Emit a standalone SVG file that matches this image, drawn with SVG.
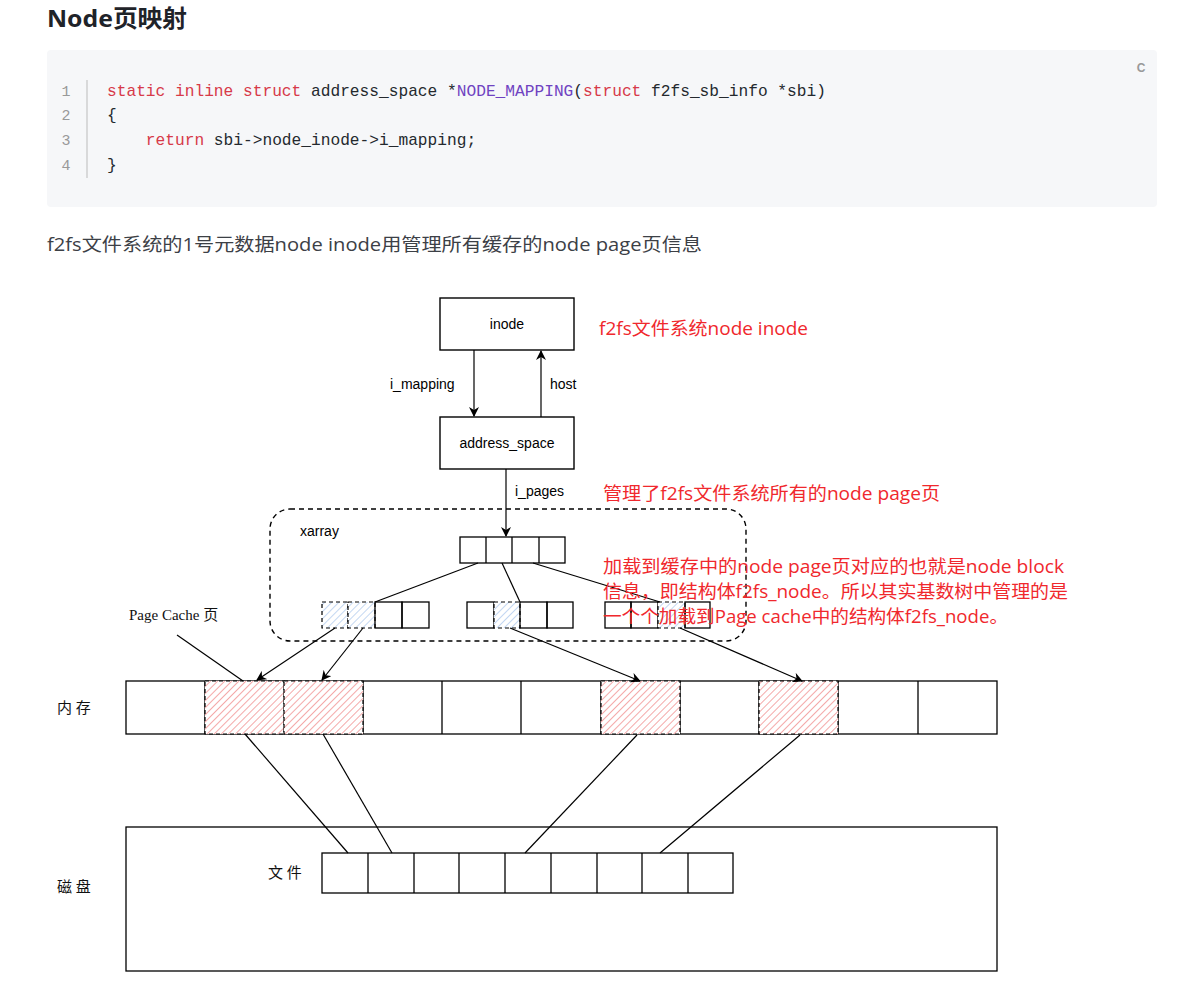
<svg xmlns="http://www.w3.org/2000/svg" width="1177" height="1005" viewBox="0 0 1177 1005">
<style>
.title{font-family:"Noto Sans","Noto Sans CJK SC",sans-serif;font-weight:bold;font-size:24px;fill:#1f2329}
.code{font-family:"Liberation Mono","DejaVu Sans Mono",monospace;font-size:16.2px;fill:#24292e}
.kw{fill:#d73a49}
.fn{fill:#6f42c1}
.ln{font-family:"Liberation Mono",monospace;font-size:15px;fill:#999;text-anchor:middle}
.para{font-family:"Open Sans","Noto Sans CJK SC",sans-serif;font-size:18px;fill:#3c4046}
.lbl{font-family:"Liberation Sans",Arial,sans-serif;font-size:14px;fill:#000}
.ctr{text-anchor:middle}
.red{font-family:"Open Sans","Noto Sans CJK SC",sans-serif;font-size:18px;fill:#f0282d}
.serif{font-family:"Liberation Serif","Noto Sans CJK SC",serif;font-size:15px;fill:#111}
.box{fill:#fff;stroke:#000;stroke-width:1.4}
.cell{fill:none;stroke:#000;stroke-width:1.3}
.line{fill:none;stroke:#000;stroke-width:1.2}
.dash{fill:none;stroke:#000;stroke-width:1.4;stroke-dasharray:5 4}
.hred{fill:url(#hatchRed);stroke:#000;stroke-width:1.2;stroke-dasharray:4 3}
.hblue{fill:url(#hatchBlue);stroke:#000;stroke-width:1.2;stroke-dasharray:4 3}
</style>
<defs>
<marker id="arr" viewBox="0 0 10 10" refX="9" refY="5" markerWidth="10" markerHeight="10" markerUnits="userSpaceOnUse" orient="auto">
<path d="M0,0 L10,5 L0,10 L3,5 Z" fill="#000"/>
</marker>
<pattern id="hatchRed" patternUnits="userSpaceOnUse" width="5" height="5" patternTransform="rotate(45)">
<rect width="5" height="5" fill="#fff"/>
<line x1="0" y1="0" x2="0" y2="5" stroke="#f4a9a9" stroke-width="2"/>
</pattern>
<pattern id="hatchBlue" patternUnits="userSpaceOnUse" width="5" height="5" patternTransform="rotate(45)">
<rect width="5" height="5" fill="#fff"/>
<line x1="0" y1="0" x2="0" y2="5" stroke="#c3d7f2" stroke-width="2"/>
</pattern>
</defs>
<rect width="1177" height="1005" fill="#fff"/>

<g id="header">
<text class="title" x="47" y="27" textLength="140" lengthAdjust="spacingAndGlyphs">Node页映射</text>
<rect x="47" y="50" width="1110" height="157" rx="4" fill="#f6f7f9"/>
<text x="1141" y="72" font-family="Liberation Sans,sans-serif" font-size="12" font-weight="bold" fill="#999" text-anchor="middle">C</text>
<line x1="87" y1="80" x2="87" y2="178" stroke="#bbb" stroke-width="1"/>
<text class="ln" x="66" y="96">1</text>
<text class="ln" x="66" y="120">2</text>
<text class="ln" x="66" y="145">3</text>
<text class="ln" x="66" y="170">4</text>
<text class="code" x="107" y="96" xml:space="preserve"><tspan class="kw">static inline struct</tspan> address_space *<tspan class="fn">NODE_MAPPING</tspan>(<tspan class="kw">struct</tspan> f2fs_sb_info *sbi)</text>
<text class="code" x="107" y="120">{</text>
<text class="code" x="107" y="145" xml:space="preserve">    <tspan class="kw">return</tspan> sbi-&gt;node_inode-&gt;i_mapping;</text>
<text class="code" x="107" y="170">}</text>
<text class="para" x="47" y="251" textLength="655" lengthAdjust="spacingAndGlyphs">f2fs文件系统的1号元数据node inode用管理所有缓存的node page页信息</text>
</g>

<g id="inode">
<rect class="box" x="440" y="298" width="134" height="52"/>
<text class="lbl ctr" x="507" y="329">inode</text>
</g>
<g id="address_space">
<rect class="box" x="440" y="417" width="134" height="52"/>
<text class="lbl ctr" x="507" y="448">address_space</text>
</g>

<g id="xarray">
<rect class="dash" x="270" y="509" width="476" height="132" rx="20"/>
<text class="lbl" x="300" y="536">xarray</text>
</g>

<g id="xa_top">
<rect class="cell" x="460" y="537" width="105" height="26"/>
<line class="cell" x1="486" y1="537" x2="486" y2="563"/>
<line class="cell" x1="512" y1="537" x2="512" y2="563"/>
<line class="cell" x1="539" y1="537" x2="539" y2="563"/>
</g>
<g id="xa_left">
<rect class="hblue" x="322" y="602" width="26" height="26"/>
<rect class="hblue" x="348" y="602" width="27" height="26"/>
<rect class="cell" x="375" y="602" width="27" height="26"/>
<rect class="cell" x="402" y="602" width="27" height="26"/>
</g>
<g id="xa_mid">
<rect class="cell" x="467" y="602" width="27" height="26"/>
<rect class="hblue" x="494" y="602" width="26" height="26"/>
<rect class="cell" x="520" y="602" width="27" height="26"/>
<rect class="cell" x="547" y="602" width="26" height="26"/>
</g>
<g id="xa_right">
<rect class="cell" x="605" y="602" width="26" height="26"/>
<rect class="cell" x="631" y="602" width="27" height="26"/>
<rect class="hblue" x="658" y="602" width="27" height="26"/>
<rect class="cell" x="685" y="602" width="25" height="26"/>
</g>

<g id="memory">
<rect class="cell" x="126" y="681" width="871" height="53"/>
<line class="cell" x1="205" y1="681" x2="205" y2="734"/>
<line class="cell" x1="284" y1="681" x2="284" y2="734"/>
<line class="cell" x1="363" y1="681" x2="363" y2="734"/>
<line class="cell" x1="442" y1="681" x2="442" y2="734"/>
<line class="cell" x1="521" y1="681" x2="521" y2="734"/>
<line class="cell" x1="601" y1="681" x2="601" y2="734"/>
<line class="cell" x1="680" y1="681" x2="680" y2="734"/>
<line class="cell" x1="759" y1="681" x2="759" y2="734"/>
<line class="cell" x1="838" y1="681" x2="838" y2="734"/>
<line class="cell" x1="918" y1="681" x2="918" y2="734"/>
<rect class="hred" x="205" y="681" width="79" height="53"/>
<rect class="hred" x="284" y="681" width="79" height="53"/>
<rect class="hred" x="601" y="681" width="79" height="53"/>
<rect class="hred" x="759" y="681" width="79" height="53"/>
</g>

<g id="disk">
<rect class="cell" x="126" y="827" width="871" height="144"/>
</g>
<g id="file">
<rect class="cell" x="322" y="853" width="411" height="40"/>
<line class="cell" x1="368" y1="853" x2="368" y2="893"/>
<line class="cell" x1="414" y1="853" x2="414" y2="893"/>
<line class="cell" x1="459" y1="853" x2="459" y2="893"/>
<line class="cell" x1="505" y1="853" x2="505" y2="893"/>
<line class="cell" x1="551" y1="853" x2="551" y2="893"/>
<line class="cell" x1="597" y1="853" x2="597" y2="893"/>
<line class="cell" x1="642" y1="853" x2="642" y2="893"/>
<line class="cell" x1="688" y1="853" x2="688" y2="893"/>
</g>

<g id="connectors">
<line class="line" x1="474" y1="350" x2="474" y2="416" marker-end="url(#arr)"/>
<line class="line" x1="541" y1="417" x2="541" y2="351" marker-end="url(#arr)"/>
<line class="line" x1="506" y1="469" x2="506" y2="536" marker-end="url(#arr)"/>
<line class="line" x1="478" y1="563" x2="375" y2="602"/>
<line class="line" x1="502" y1="563" x2="520" y2="602"/>
<line class="line" x1="533" y1="563" x2="660" y2="602"/>
<line class="line" x1="335" y1="628" x2="257" y2="680" marker-end="url(#arr)"/>
<line class="line" x1="363" y1="628" x2="322" y2="680" marker-end="url(#arr)"/>
<line class="line" x1="510" y1="628" x2="640" y2="681" marker-end="url(#arr)"/>
<line class="line" x1="680" y1="628" x2="802" y2="681" marker-end="url(#arr)"/>
<line class="line" x1="177" y1="635" x2="243" y2="681"/>
<line class="line" x1="245" y1="734" x2="348" y2="853"/>
<line class="line" x1="323" y1="734" x2="392" y2="853"/>
<line class="line" x1="637" y1="735" x2="525" y2="853"/>
<line class="line" x1="800" y1="735" x2="660" y2="853"/>
</g>

<g id="labels">
<text class="lbl" x="390" y="389">i_mapping</text>
<text class="lbl" x="550" y="389">host</text>
<text class="lbl" x="515" y="496">i_pages</text>
<text class="red" x="599" y="335" textLength="209" lengthAdjust="spacingAndGlyphs">f2fs文件系统node inode</text>
<text class="red" x="603" y="500" textLength="337" lengthAdjust="spacingAndGlyphs">管理了f2fs文件系统所有的node page页</text>
<text class="red" x="603" y="573" textLength="461" lengthAdjust="spacingAndGlyphs">加载到缓存中的node page页对应的也就是node block</text>
<text class="red" x="603" y="598" textLength="465" lengthAdjust="spacingAndGlyphs">信息，即结构体f2fs_node。所以其实基数树中管理的是</text>
<text class="red" x="603" y="623" textLength="405" lengthAdjust="spacingAndGlyphs">一个个加载到Page cache中的结构体f2fs_node。</text>
<text class="serif" x="129" y="620">Page Cache 页</text>
<text class="serif" x="57" y="713">内 存</text>
<text class="serif" x="57" y="892">磁 盘</text>
<text class="serif" x="268" y="878">文 件</text>
</g>
</svg>
